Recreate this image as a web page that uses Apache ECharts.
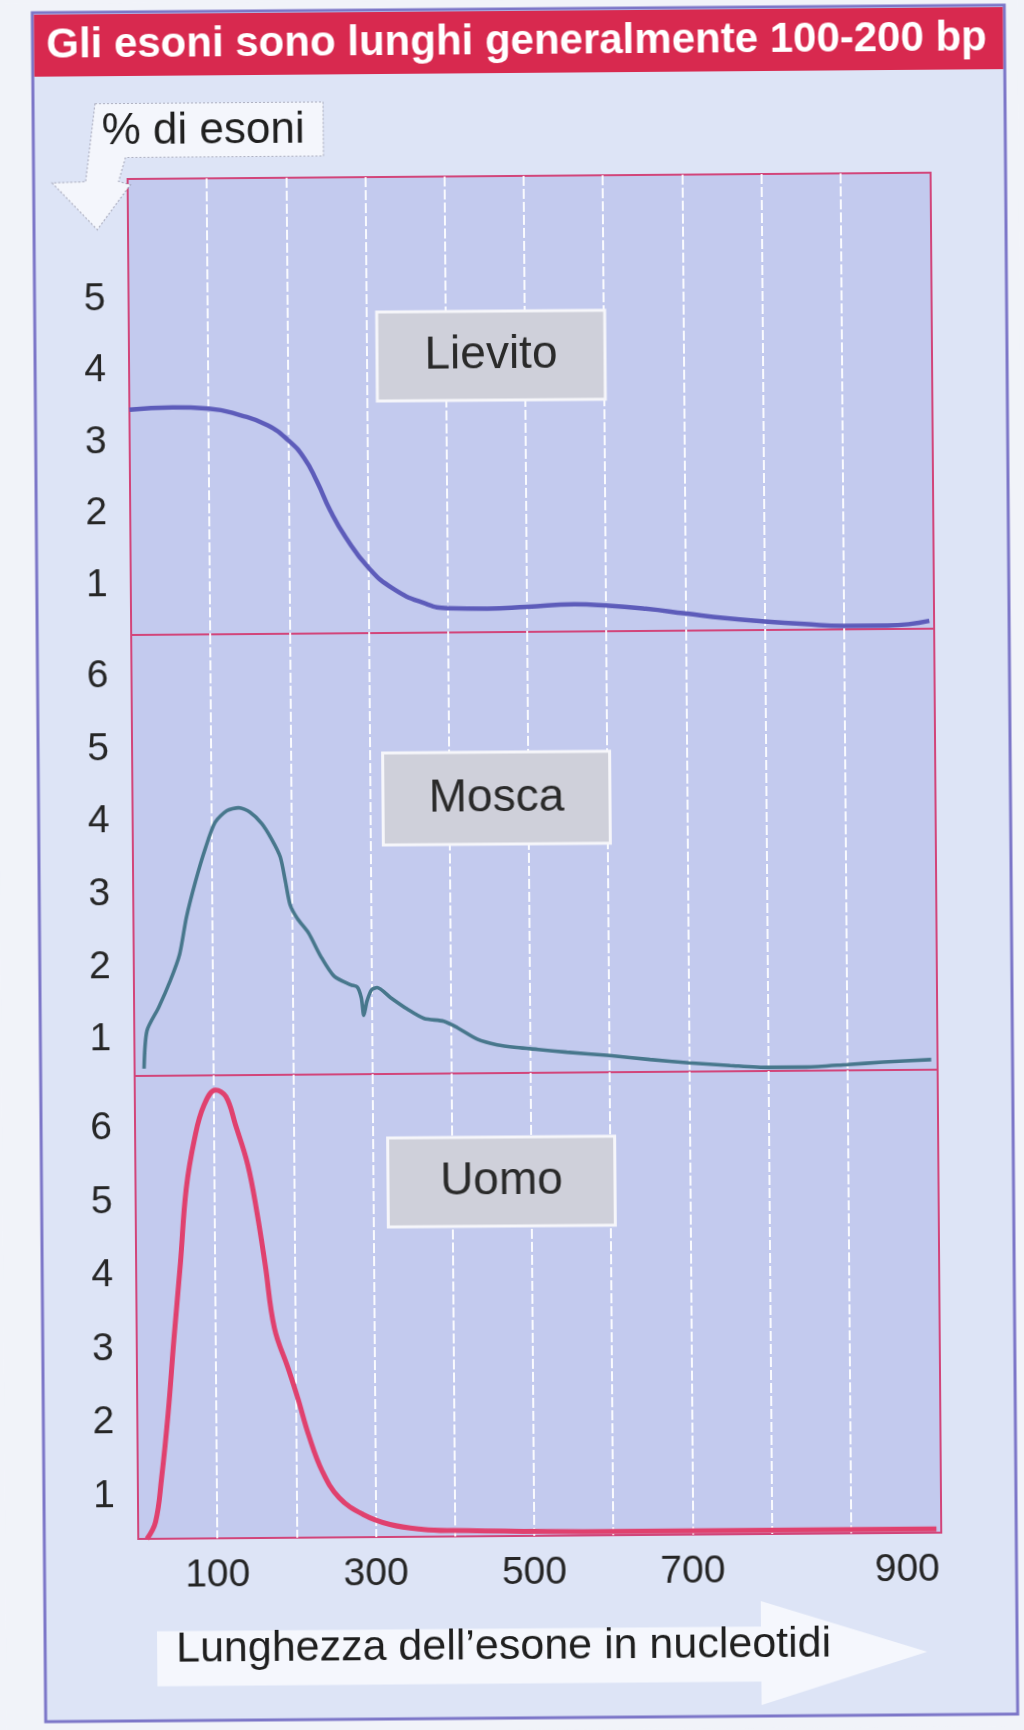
<!DOCTYPE html>
<html>
<head>
<meta charset="utf-8">
<script src="https://cdn.jsdelivr.net/npm/echarts/dist/echarts.min.js"></script>
<style>
html, body { margin: 0; padding: 0; background: #f1f3f9; overflow: hidden; }
#chart { width: 1024px; height: 1730px; transform: rotate(-0.45deg); transform-origin: 512px 865px; }
</style>
</head>
<body>
<div id="chart"></div>
<script>
// ---- text ----
const titleText = 'Gli esoni sono lunghi generalmente 100-200 bp';
const yAxisTitle = '% di esoni';
const xAxisTitle = 'Lunghezza dell\u2019esone in nucleotidi';
const panelNames = ['Lievito', 'Mosca', 'Uomo'];

// ---- ticks ----
const xTickLabels = [100, 300, 500, 700, 900];
const xGridValues = [100, 200, 300, 400, 500, 600, 700, 800, 900];
const yTicksLievito = [1, 2, 3, 4, 5];
const yTicksMosca = [1, 2, 3, 4, 5, 6];
const yTicksUomo = [1, 2, 3, 4, 5, 6];

// ---- series: Lievito (yeast) ----
const lievitoX = [0, 55, 100, 141, 174, 200, 220, 236, 253, 272, 300, 331, 371, 400, 450, 500, 560, 600, 650, 700, 750, 800, 850, 900, 955, 1008];
const lievitoY = [3.45, 3.48, 3.46, 3.36, 3.22, 3.01, 2.76, 2.43, 2.01, 1.64, 1.22, 0.92, 0.71, 0.64, 0.63, 0.65, 0.68, 0.66, 0.61, 0.54, 0.47, 0.42, 0.38, 0.35, 0.35, 0.41];

// ---- series: Mosca (fly) ----
const moscaX = [12, 16, 31, 46, 58, 67, 79, 92, 104, 119, 134, 148, 163, 175, 186, 192, 198, 207, 221, 236, 253, 274, 282, 287, 290, 294, 300, 307, 324, 345, 366, 391, 408, 433, 458, 483, 510, 546, 600, 651, 700, 752, 800, 848, 900, 945, 1006];
const moscaY = [0.60, 1.12, 1.44, 1.81, 2.17, 2.68, 3.18, 3.64, 3.98, 4.14, 4.18, 4.12, 3.96, 3.75, 3.50, 3.18, 2.84, 2.65, 2.45, 2.13, 1.85, 1.73, 1.70, 1.55, 1.31, 1.50, 1.66, 1.69, 1.55, 1.39, 1.26, 1.22, 1.13, 0.97, 0.89, 0.85, 0.82, 0.78, 0.73, 0.67, 0.62, 0.58, 0.55, 0.55, 0.58, 0.61, 0.64];

// ---- series: Uomo (human) ----
const uomoX = [11, 22, 30, 39, 47, 56, 64, 75, 87, 102, 115, 127, 142, 153, 163, 174, 191, 203, 216, 233, 254, 284, 318, 360, 398, 500, 600, 700, 800, 900, 1008];
const uomoY = [0.42, 0.65, 1.24, 2.13, 3.13, 4.17, 5.17, 5.85, 6.30, 6.51, 6.42, 6.03, 5.49, 4.85, 4.13, 3.27, 2.72, 2.31, 1.82, 1.32, 0.96, 0.73, 0.59, 0.52, 0.50, 0.48, 0.47, 0.47, 0.47, 0.47, 0.47];

// ---- axis ranges ----
const xRange = [0, 1014];
const yRangeLievito = [0.3, 6.68];
const yRangeMosca = [0.5, 6.57];
const yRangeUomo = [0.42, 6.71];

const FONT = "'Liberation Sans', Arial, Helvetica, sans-serif";
const pair = (xs, ys) => xs.map((x, i) => [x, ys[i]]);

const grids = [
  { left: 133, width: 803, top: 176, height: 456 },
  { left: 133, width: 803, top: 632, height: 441 },
  { left: 133, width: 803, top: 1073, height: 463 }
].map(g => Object.assign(g, {
  show: true, backgroundColor: '#c3caee', borderColor: '#d2457a', borderWidth: 2
}));

function xAxisFor(i, showLabels) {
  return {
    type: 'value', gridIndex: i, min: xRange[0], max: xRange[1],
    axisLine: { show: false },
    axisTick: { show: false, customValues: xGridValues },
    splitLine: { show: true,
      lineStyle: { color: 'rgba(255,255,255,0.9)', width: 2, type: [10, 3] } },
    axisLabel: showLabels ? {
      show: true, customValues: xTickLabels, margin: 18,
      fontSize: 39, color: '#262626', fontFamily: FONT,
      formatter: v => (v === 900 ? '{r|900}' : String(v)),
      rich: { r: { fontSize: 39, color: '#262626', fontFamily: FONT, padding: [0, 0, 0, 112] } }
    } : { show: false }
  };
}
function yAxisFor(i, range, ticks) {
  return {
    type: 'value', gridIndex: i, min: range[0], max: range[1],
    axisLine: { show: false }, axisTick: { show: false }, splitLine: { show: false },
    axisLabel: { show: true, customValues: ticks, margin: 23, fontSize: 39, color: '#262626', fontFamily: FONT }
  };
}

function labelBox(x, y, w, h, text) {
  return {
    type: 'group', z: 10,
    children: [
      { type: 'rect', shape: { x: x, y: y, width: w, height: h }, style: { fill: '#cfd0da', stroke: '#f6f6fa', lineWidth: 3 }, z: 10 },
      { type: 'text', x: x + w / 2, y: y + h / 2, z: 11,
        style: { text: text, fill: '#2a2a2a', font: '46px ' + FONT, align: 'center', verticalAlign: 'middle' } }
    ]
  };
}

const option = {
  backgroundColor: '#f1f3f9',
  animation: false,
  grid: grids,
  xAxis: [xAxisFor(0, false), xAxisFor(1, false), xAxisFor(2, true)],
  yAxis: [
    yAxisFor(0, yRangeLievito, yTicksLievito),
    yAxisFor(1, yRangeMosca, yTicksMosca),
    yAxisFor(2, yRangeUomo, yTicksUomo)
  ],
  series: [
    { name: panelNames[0], type: 'line', xAxisIndex: 0, yAxisIndex: 0, data: pair(lievitoX, lievitoY),
      showSymbol: false, symbol: 'none', smooth: 0.5, lineStyle: { color: '#5d5cba', width: 4.5 }, z: 3 },
    { name: panelNames[1], type: 'line', xAxisIndex: 1, yAxisIndex: 1, data: pair(moscaX, moscaY),
      showSymbol: false, symbol: 'none', smooth: 0.25, lineStyle: { color: '#47778c', width: 3.6 }, z: 3 },
    { name: panelNames[2], type: 'line', xAxisIndex: 2, yAxisIndex: 2, data: pair(uomoX, uomoY),
      showSymbol: false, symbol: 'none', smooth: 0.4, lineStyle: { color: '#e0416e', width: 5 }, z: 3 }
  ],
  graphic: [
    // outer panel
    { type: 'rect', z: -5, shape: { x: 39, y: 9, width: 972, height: 1709 },
      style: { fill: '#dde4f6', stroke: '#7c76c8', lineWidth: 3 } },
    // title band
    { type: 'rect', z: -4, shape: { x: 40.5, y: 11, width: 969, height: 62 }, style: { fill: '#d8294f' } },
    { type: 'text', z: 5, x: 523, y: 42.5,
      style: { text: titleText, fill: '#ffffff', font: 'bold 42px ' + FONT, align: 'center', verticalAlign: 'middle' } },
    // y-axis title box with arrow
    { type: 'polygon', z: 10,
      shape: { points: [[101, 100.5], [329, 100.5], [329, 154.5], [131, 154.5], [124, 178.4], [135.7, 181.8], [102.3, 226.5], [57.5, 179.4], [91, 178.4]] },
      style: { fill: '#f4f6fc', stroke: 'rgba(130,130,150,0.55)', lineWidth: 1.2, lineDash: [2, 2] } },
    { type: 'text', z: 11, x: 107.5, y: 128.8,
      style: { text: yAxisTitle, fill: '#1f1f1f', font: '44px ' + FONT, align: 'left', verticalAlign: 'middle' } },
    // x-axis title arrow
    { type: 'polygon', z: 10,
      shape: { points: [[151, 1628.5], [755, 1628.5], [755, 1603], [921, 1655], [755, 1707], [755, 1683.5], [151, 1683.5]] },
      style: { fill: '#f5f7fd' } },
    { type: 'text', z: 11, x: 170, y: 1647,
      style: { text: xAxisTitle, fill: '#1f1f1f', font: '43px ' + FONT, align: 'left', verticalAlign: 'middle' } },
    // panel name boxes
    labelBox(381, 311, 228, 89, panelNames[0]),
    labelBox(383.5, 752, 227, 92, panelNames[1]),
    labelBox(385.5, 1137, 227, 89, panelNames[2])
  ]
};

const chart = echarts.init(document.getElementById('chart'), null, { renderer: 'canvas' });
chart.setOption(option);
</script>
</body>
</html>
